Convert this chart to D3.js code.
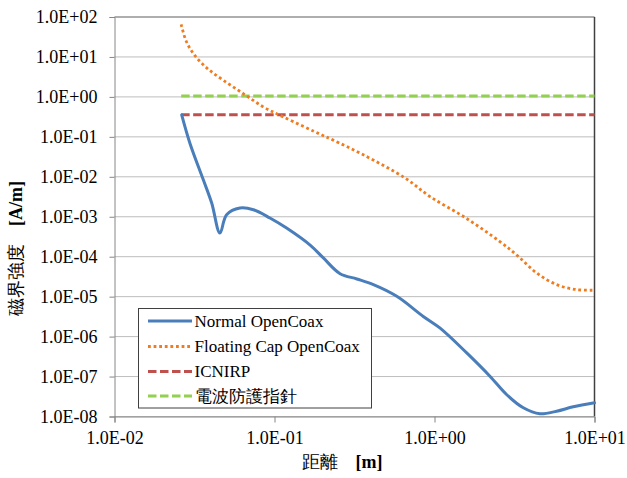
<!DOCTYPE html>
<html>
<head>
<meta charset="utf-8">
<script src="https://cdn.jsdelivr.net/npm/d3@7"></script>
<style>
  html, body { margin: 0; padding: 0; background: #fff; }
  svg { display: block; }
</style>
</head>
<body>
<svg id="chart" width="627" height="478"></svg>
<script>
// ---- data ----
const xTickValues = [0.01, 0.1, 1, 10];
const yTickValues = [1e-8, 1e-7, 1e-6, 1e-5, 1e-4, 1e-3, 1e-2, 1e-1, 1e0, 1e1, 1e2];
const xTickLabels = ["1.0E-02", "1.0E-01", "1.0E+00", "1.0E+01"];
const yTickLabels = ["1.0E-08", "1.0E-07", "1.0E-06", "1.0E-05", "1.0E-04", "1.0E-03", "1.0E-02", "1.0E-01", "1.0E+00", "1.0E+01", "1.0E+02"];

const seriesNames = ["Normal OpenCoax", "Floating Cap OpenCoax", "ICNIRP", "電波防護指針"];

const normalX = [0.0263, 0.0296, 0.0359, 0.0405, 0.0456, 0.0502, 0.0608, 0.0738, 0.0937, 0.119, 0.167, 0.202, 0.257, 0.327, 0.415, 0.581, 0.851, 1.08, 1.59, 2.22, 2.83, 3.59, 4.56, 5.80, 7.37, 10];
const normalY = [0.355, 0.0695, 0.0084, 0.0022, 0.00039, 0.00112, 0.00165, 0.0015, 0.00093, 0.00052, 0.000195, 9.3e-5, 3.76e-5, 2.77e-5, 2.0e-5, 1.02e-5, 3.2e-6, 1.65e-6, 3.9e-7, 1.02e-7, 3.5e-8, 1.65e-8, 1.17e-8, 1.36e-8, 1.75e-8, 2.2e-8];

const floatX = [0.0261, 0.0282, 0.0323, 0.0386, 0.0479, 0.0638, 0.0851, 0.1135, 0.199, 0.231, 0.359, 0.655, 0.937, 1.55, 2.56, 3.34, 4.35, 5.80, 7.74, 10];
const floatY = [65.6, 23.7, 10, 4.92, 2.61, 1.21, 0.562, 0.316, 0.110, 0.084, 0.0355, 0.0093, 0.0032, 9.6e-4, 2.4e-4, 1.02e-4, 3.9e-5, 2.0e-5, 1.5e-5, 1.45e-5];

const icnirpX = [0.0261, 10];
const icnirpY = [0.36, 0.36];

const guideX = [0.0261, 10];
const guideY = [1.06, 1.06];

// ---- layout ----
const svg = d3.select("#chart");
const L = 114.5, R = 594.5, T = 17, B = 416.5;
const x = d3.scaleLog().domain([0.01, 10]).range([L, R]);
const y = d3.scaleLog().domain([1e-8, 1e2]).range([B, T]);
const FONT = "Liberation Serif";

// gridlines
svg.append("g").selectAll("line").data(yTickValues).join("line")
  .attr("x1", L).attr("x2", R)
  .attr("y1", d => y(d)).attr("y2", d => y(d))
  .attr("stroke", "#bdbdbd").attr("stroke-width", 1);

// plot border (top/right)
svg.append("line").attr("x1", L).attr("x2", R).attr("y1", T).attr("y2", T)
  .attr("stroke", "#7f7f7f").attr("stroke-width", 1.2);
svg.append("line").attr("x1", R).attr("x2", R).attr("y1", T).attr("y2", B)
  .attr("stroke", "#404040").attr("stroke-width", 1.5);

// axes
const xAxis = d3.axisBottom(x).tickValues(xTickValues)
  .tickFormat((d, i) => xTickLabels[i]).tickSize(6).tickPadding(9);
const gx = svg.append("g").attr("transform", `translate(0,${B})`).call(xAxis)
  .attr("font-family", FONT).attr("font-size", 18);
gx.select(".domain").attr("stroke", "#868686");
gx.selectAll(".tick line").attr("stroke", "#868686");
gx.selectAll("text").attr("font-family", FONT).attr("font-size", 18).attr("fill", "#000");

const yAxis = d3.axisLeft(y).tickValues(yTickValues)
  .tickFormat((d, i) => yTickLabels[i]).tickSize(5).tickPadding(12);
const gy = svg.append("g").attr("transform", `translate(${L},0)`).call(yAxis)
  .attr("font-family", FONT).attr("font-size", 18);
gy.select(".domain").attr("stroke", "#868686");
gy.selectAll(".tick line").attr("stroke", "#868686");
gy.selectAll("text").attr("font-family", FONT).attr("font-size", 18).attr("fill", "#000");

// series
const styles = [
  { color: "#4a7ebb", width: 3, dash: null, cap: "round" },
  { color: "#f07c1e", width: 2.8, dash: "2.8,2.8", cap: "butt" },
  { color: "#c0504d", width: 3, dash: "8.5,3.5", cap: "butt" },
  { color: "#92d050", width: 3, dash: "8.5,3.5", cap: "butt" }
];
const seriesData = [
  d3.zip(normalX, normalY),
  d3.zip(floatX, floatY),
  d3.zip(icnirpX, icnirpY),
  d3.zip(guideX, guideY)
];
const line = d3.line().x(d => x(d[0])).y(d => y(d[1])).curve(d3.curveCatmullRom.alpha(0.5));

const drawOrder = [3, 2, 1, 0];
drawOrder.forEach(i => {
  const s = styles[i];
  svg.append("path").datum(seriesData[i])
    .attr("d", line)
    .attr("fill", "none")
    .attr("stroke", s.color)
    .attr("stroke-width", s.width)
    .attr("stroke-linecap", s.cap)
    .attr("stroke-linejoin", "round")
    .attr("stroke-dasharray", s.dash);
});

// legend
const lg = svg.append("g").attr("font-family", FONT);
lg.append("rect").attr("x", 138.5).attr("y", 308.5).attr("width", 233).attr("height", 99.5)
  .attr("fill", "#fff").attr("stroke", "#404040").attr("stroke-width", 1);
const rowY = [321, 346.5, 371.5, 396];
seriesNames.forEach((name, i) => {
  const s = styles[i];
  lg.append("line").attr("x1", 148).attr("x2", 192).attr("y1", rowY[i]).attr("y2", rowY[i])
    .attr("stroke", s.color).attr("stroke-width", s.width)
    .attr("stroke-dasharray", s.dash).attr("stroke-linecap", "butt");
  lg.append("text").attr("x", 194.5).attr("y", rowY[i]).attr("dy", "0.35em")
    .attr("font-family", FONT).attr("font-size", 17).attr("fill", "#000")
    .text(name);
});

// axis titles
const xt = svg.append("text").attr("x", 342).attr("y", 468)
  .attr("text-anchor", "middle").attr("font-family", FONT).attr("font-size", 18).attr("fill", "#000");
xt.append("tspan").text("距離　");
xt.append("tspan").attr("font-weight", "bold").text("[m]");

const yt = svg.append("text").attr("transform", "translate(22,248.5) rotate(-90)")
  .attr("text-anchor", "middle").attr("font-family", FONT).attr("font-size", 18).attr("fill", "#000");
yt.append("tspan").text("磁界強度　");
yt.append("tspan").attr("font-weight", "bold").text("[A/m]");
</script>
</body>
</html>
